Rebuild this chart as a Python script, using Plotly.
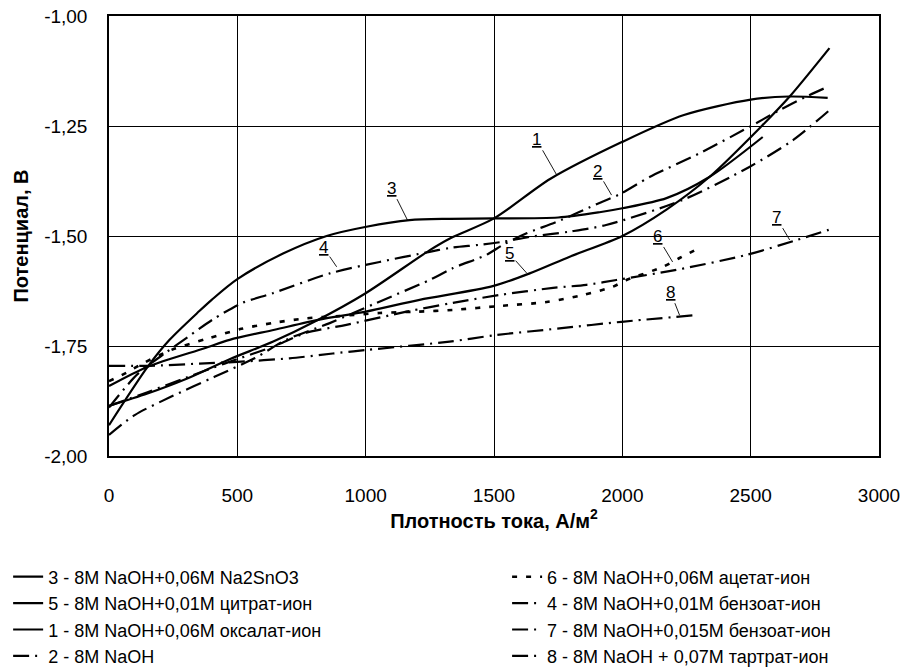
import plotly.graph_objects as go

# ---------------- data ----------------
x1 = [0, 150, 300, 470, 640, 800, 1000, 1250, 1330, 1500, 1720, 2000, 2240, 2500, 2650, 2800]
y1 = [-1.886, -1.858, -1.825, -1.78, -1.74, -1.695, -1.63, -1.532, -1.505, -1.46, -1.37, -1.286, -1.225, -1.19, -1.183, -1.186]

x2 = [0, 100, 243, 411, 567, 690, 860, 1042, 1249, 1340, 1470, 1535, 1627, 1744, 1911, 1990, 2106, 2301, 2495, 2613, 2717, 2800]
y2 = [-1.952, -1.907, -1.865, -1.82, -1.778, -1.736, -1.698, -1.652, -1.60, -1.573, -1.543, -1.52, -1.494, -1.468, -1.425, -1.405, -1.366, -1.312, -1.252, -1.214, -1.183, -1.161]

x3 = [0, 151, 236, 353, 400, 500, 678, 848, 1003, 1171, 1327, 1500, 1750, 1911, 2000, 2172, 2339, 2547]
y3 = [-1.93, -1.797, -1.736, -1.67, -1.645, -1.598, -1.54, -1.50, -1.479, -1.464, -1.461, -1.46, -1.458, -1.446, -1.437, -1.414, -1.366, -1.275]

x4 = [0, 111, 224, 306, 404, 516, 638, 860, 1054, 1249, 1330, 1444, 1535, 1639, 1795, 1937, 2235, 2495, 2665, 2807]
y4 = [-1.89, -1.814, -1.764, -1.73, -1.69, -1.653, -1.63, -1.585, -1.559, -1.536, -1.527, -1.52, -1.513, -1.502, -1.49, -1.475, -1.418, -1.343, -1.282, -1.214]

x5 = [0, 151, 372, 470, 645, 820, 1000, 1210, 1495, 1639, 1795, 2000, 2172, 2339, 2543, 2652, 2807]
y5 = [-1.841, -1.797, -1.755, -1.736, -1.713, -1.69, -1.672, -1.645, -1.614, -1.585, -1.547, -1.50, -1.44, -1.366, -1.25, -1.183, -1.073]

x6 = [0, 70, 130, 243, 385, 516, 645, 769, 898, 1054, 1200, 1340, 1522, 1705, 1847, 1964, 2016, 2158, 2223, 2290]
y6 = [-1.83, -1.81, -1.79, -1.759, -1.733, -1.711, -1.697, -1.687, -1.682, -1.675, -1.672, -1.668, -1.659, -1.65, -1.634, -1.615, -1.60, -1.57, -1.55, -1.53]

x7 = [0, 150, 300, 450, 645, 769, 925, 1159, 1340, 1522, 1730, 1860, 1977, 2210, 2483, 2680, 2804]
y7 = [-1.886, -1.855, -1.822, -1.79, -1.75, -1.72, -1.702, -1.672, -1.652, -1.634, -1.618, -1.611, -1.60, -1.577, -1.543, -1.509, -1.486]

x8 = [0, 158, 353, 500, 703, 872, 1003, 1327, 1510, 1755, 1997, 2282]
y8 = [-1.795, -1.795, -1.79, -1.786, -1.778, -1.767, -1.759, -1.74, -1.725, -1.71, -1.695, -1.68]

names = {
    1: "1 - 8M NaOH+0,06M оксалат-ион",
    2: "2 - 8M NaOH",
    3: "3 - 8M NaOH+0,06M Na2SnO3",
    4: "4 - 8M NaOH+0,01M бензоат-ион",
    5: "5 - 8M NaOH+0,01M цитрат-ион",
    6: "6 - 8M NaOH+0,06M ацетат-ион",
    7: "7 - 8M NaOH+0,015M бензоат-ион",
    8: "8 - 8M NaOH + 0,07M тартрат-ион",
}
series = {1: (x1, y1), 2: (x2, y2), 3: (x3, y3), 4: (x4, y4),
          5: (x5, y5), 6: (x6, y6), 7: (x7, y7), 8: (x8, y8)}

# legend columns
legend_col1 = [3, 5, 1, 2]
legend_col2 = [6, 4, 7, 8]

x_ticks = [0, 500, 1000, 1500, 2000, 2500, 3000]
x_tick_labels = ["0", "500", "1000", "1500", "2000", "2500", "3000"]
y_ticks = [-2.0, -1.75, -1.5, -1.25, -1.0]
y_tick_labels = ["-2,00", "-1,75", "-1,50", "-1,25", "-1,00"]

# curve labels: text, x, y of the pointed curve point, pixel offsets of label
label_text = ["1", "2", "3", "4", "5", "6", "7", "8"]
label_x = [1744, 1958, 1163, 887, 1627, 2196, 2652, 2223]
label_y = [-1.361, -1.407, -1.464, -1.570, -1.584, -1.559, -1.509, -1.680]
label_ax = [-20, -14, -16, -13, -17, -15, -13, -9]
label_ay = [-35, -24, -32, -19, -19, -25, -22, -23]

# ---------------- styles ----------------
FONT = "Liberation Sans, Arial, sans-serif"
DASHDOT = "16px,6px,2px,6px"
styles = {
    1: dict(color="black", width=2.2, dash="solid"),
    3: dict(color="black", width=2.2, dash="solid"),
    5: dict(color="black", width=2.2, dash="solid"),
    6: dict(color="black", width=2.6, dash="5px,9px"),
    2: dict(color="black", width=2.2, dash=DASHDOT),
    4: dict(color="black", width=2.2, dash=DASHDOT),
    7: dict(color="black", width=2.2, dash=DASHDOT),
    8: dict(color="black", width=2.2, dash=DASHDOT),
}

fig = go.Figure()
for col, legname in ((legend_col1, "legend"), (legend_col2, "legend2")):
    for k in col:
        xs, ys = series[k]
        fig.add_trace(go.Scatter(
            x=xs, y=ys, mode="lines", name=names[k], legend=legname,
            line=dict(shape="spline", smoothing=0.8, **styles[k]),
            hoverinfo="skip",
        ))

for t, lx, ly, ax, ay in zip(label_text, label_x, label_y, label_ax, label_ay):
    fig.add_annotation(
        x=lx, y=ly, xref="x", yref="y", text="<u>" + t + "</u>",
        showarrow=True, arrowhead=0, arrowwidth=0.9, arrowcolor="black",
        ax=ax, ay=ay, font=dict(family=FONT, size=17, color="black"),
        standoff=0, startstandoff=0,
    )

legend_common = dict(
    orientation="v", xanchor="left", yanchor="top", y=-0.233,
    font=dict(family=FONT, size=18, color="black"),
    bgcolor="rgba(0,0,0,0)", itemwidth=30, tracegroupgap=0,
    traceorder="normal",
)

fig.update_layout(
    width=902, height=668,
    margin=dict(l=109, r=23, t=16, b=212, autoexpand=False),
    paper_bgcolor="white", plot_bgcolor="white",
    font=dict(family=FONT, color="black"),
    showlegend=True,
    legend=dict(x=-0.131, **legend_common),
    legend2=dict(x=0.517, **legend_common),
    xaxis=dict(
        range=[0, 3000], tickvals=x_ticks, ticktext=x_tick_labels,
        showgrid=True, gridcolor="black", gridwidth=1,
        showline=True, linecolor="black", linewidth=1.5, mirror=True,
        ticks="outside", ticklen=21, tickcolor="rgba(0,0,0,0)",
        tickfont=dict(family=FONT, size=19, color="black"),
        zeroline=False,
        title=dict(text="Плотность тока, А/м<sup>2</sup>", standoff=9,
                   font=dict(family=FONT, size=20, color="black", weight="bold")),
    ),
    yaxis=dict(
        range=[-2.0, -1.0], tickvals=y_ticks, ticktext=y_tick_labels,
        showgrid=True, gridcolor="black", gridwidth=1,
        showline=True, linecolor="black", linewidth=1.5, mirror=True,
        ticks="outside", ticklen=16, tickcolor="rgba(0,0,0,0)",
        tickfont=dict(family=FONT, size=19, color="black"),
        zeroline=False,
        title=dict(text="Потенциал, В", standoff=10,
                   font=dict(family=FONT, size=20, color="black", weight="bold")),
    ),
)

fig.write_html("out.html")
